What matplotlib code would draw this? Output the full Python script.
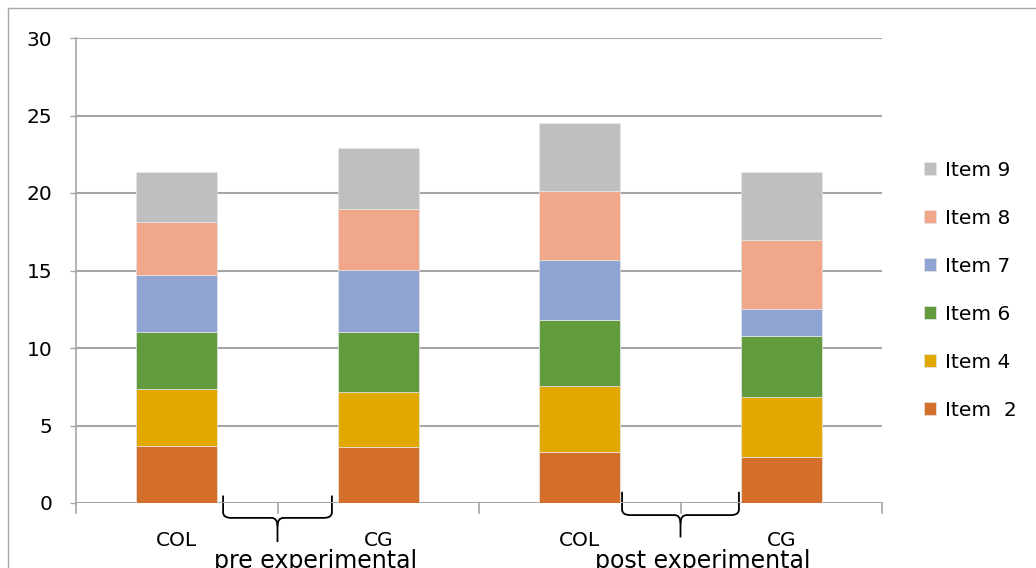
import matplotlib
matplotlib.use("Agg")
import matplotlib.pyplot as plt
import numpy as np
from matplotlib.path import Path
from matplotlib.patches import PathPatch
import matplotlib.lines as mlines

categories = ["COL", "CG", "COL", "CG"]
groups = ["pre experimental", "post experimental"]
series_names = ["Item  2", "Item 4", "Item 6", "Item 7", "Item 8", "Item 9"]
item2 = [3.66, 3.61, 3.31, 2.99]
item4 = [3.69, 3.53, 4.22, 3.87]
item6 = [3.68, 3.89, 4.30, 3.94]
item7 = [3.68, 4.00, 3.87, 1.72]
item8 = [3.44, 3.92, 4.43, 4.45]
item9 = [3.22, 3.93, 4.41, 4.40]
yticks = [0, 5, 10, 15, 20, 25, 30]

colors = ["#D36F2B", "#E1A900", "#629A3E", "#8FA4D3", "#F0A78A", "#BFBFBF"]
series = [item2, item4, item6, item7, item8, item9]

FONT = "DejaVu Sans"
FS = 14.5
plt.rcParams["font.family"] = [FONT]

fig = plt.figure(figsize=(10.36, 5.68), dpi=100)
ax = fig.add_axes([76/1036, 65/568, 806/1036, 465/568])

x = np.arange(len(categories))
bottom = np.zeros(len(categories))
handles = []
for name, vals, c in zip(series_names, series, colors):
    b = ax.bar(x, vals, 0.4, bottom=bottom, color=c, label=name, zorder=3,
               edgecolor="#e6e6e6", linewidth=0.5)
    handles.append(b)
    bottom += np.array(vals)

ax.set_xlim(-0.5, len(categories) - 0.5)
ax.set_ylim(0, 30)
ax.set_yticks(yticks)
ax.set_yticklabels([str(t) for t in yticks], fontsize=FS, color="#000000")
ax.yaxis.grid(True, color="#a6a6a6", linewidth=1.5, zorder=0)
ax.tick_params(axis="y", length=4.5, color="#a6a6a6", width=1.0, pad=12.5)
for s in ["top", "right", "bottom"]:
    ax.spines[s].set_visible(False)
ax.spines["left"].set_color("#a6a6a6")
ax.spines["left"].set_linewidth(1.2)

# x axis: ticks at category boundaries
ax.set_xticks([])
trans = ax.get_xaxis_transform()
for xb in np.arange(-0.5, len(categories), 1.0):
    ax.add_line(mlines.Line2D([xb, xb], [0, -0.022], transform=trans,
                              color="#a6a6a6", lw=1.2, clip_on=False))
for xi, lab in zip(x, categories):
    ax.text(xi, -0.08, lab, transform=trans, ha="center", va="center",
            fontsize=FS, clip_on=False)
group_offsets = [0.19, 0.11]
for gi, g in enumerate(groups):
    ax.text(2*gi + 0.5 + group_offsets[gi], -0.125, g, transform=trans,
            ha="center", va="center", fontsize=17, clip_on=False)

# curly braces (drawn shapes between bars)
def brace(xc, half, ytop, yh, ytip):
    r = 0.012
    xl, xr = xc - half, xc + half
    verts = [(xl, ytop), (xl, yh + r), (xl, yh), (xl + 0.04, yh),
             (xc - 0.03, yh), (xc, yh), (xc, yh - r * 1.5), (xc, ytip)]
    codes = [Path.MOVETO, Path.LINETO, Path.CURVE3, Path.CURVE3,
             Path.LINETO, Path.CURVE3, Path.CURVE3, Path.LINETO]
    ax.add_patch(PathPatch(Path(verts, codes), transform=trans, fill=False,
                           lw=1.3, color="black", clip_on=False))
    verts = [(xr, ytop), (xr, yh + r), (xr, yh), (xr - 0.04, yh),
             (xc + 0.03, yh), (xc, yh), (xc, yh - r * 1.5)]
    codes = [Path.MOVETO, Path.LINETO, Path.CURVE3, Path.CURVE3,
             Path.LINETO, Path.CURVE3, Path.CURVE3]
    ax.add_patch(PathPatch(Path(verts, codes), transform=trans, fill=False,
                           lw=1.3, color="black", clip_on=False))

brace(0.5, 0.27, 0.016, -0.032, -0.084)
brace(2.5, 0.29, 0.024, -0.026, -0.074)

leg = ax.legend(handles[::-1], series_names[::-1], loc="upper left",
                bbox_to_anchor=(1.042, 0.753), frameon=False, fontsize=FS,
                handlelength=0.6, handleheight=0.6, handletextpad=0.45,
                labelspacing=1.44, borderaxespad=0)

# figure border (top and left visible)
fig.add_artist(mlines.Line2D([8/1036, 1.0], [1 - 8/568, 1 - 8/568],
                             transform=fig.transFigure, color="#a6a6a6", lw=1))
fig.add_artist(mlines.Line2D([8/1036, 8/1036], [0, 1 - 8/568],
                             transform=fig.transFigure, color="#a6a6a6", lw=1))

fig.savefig("out.png", dpi=100)
